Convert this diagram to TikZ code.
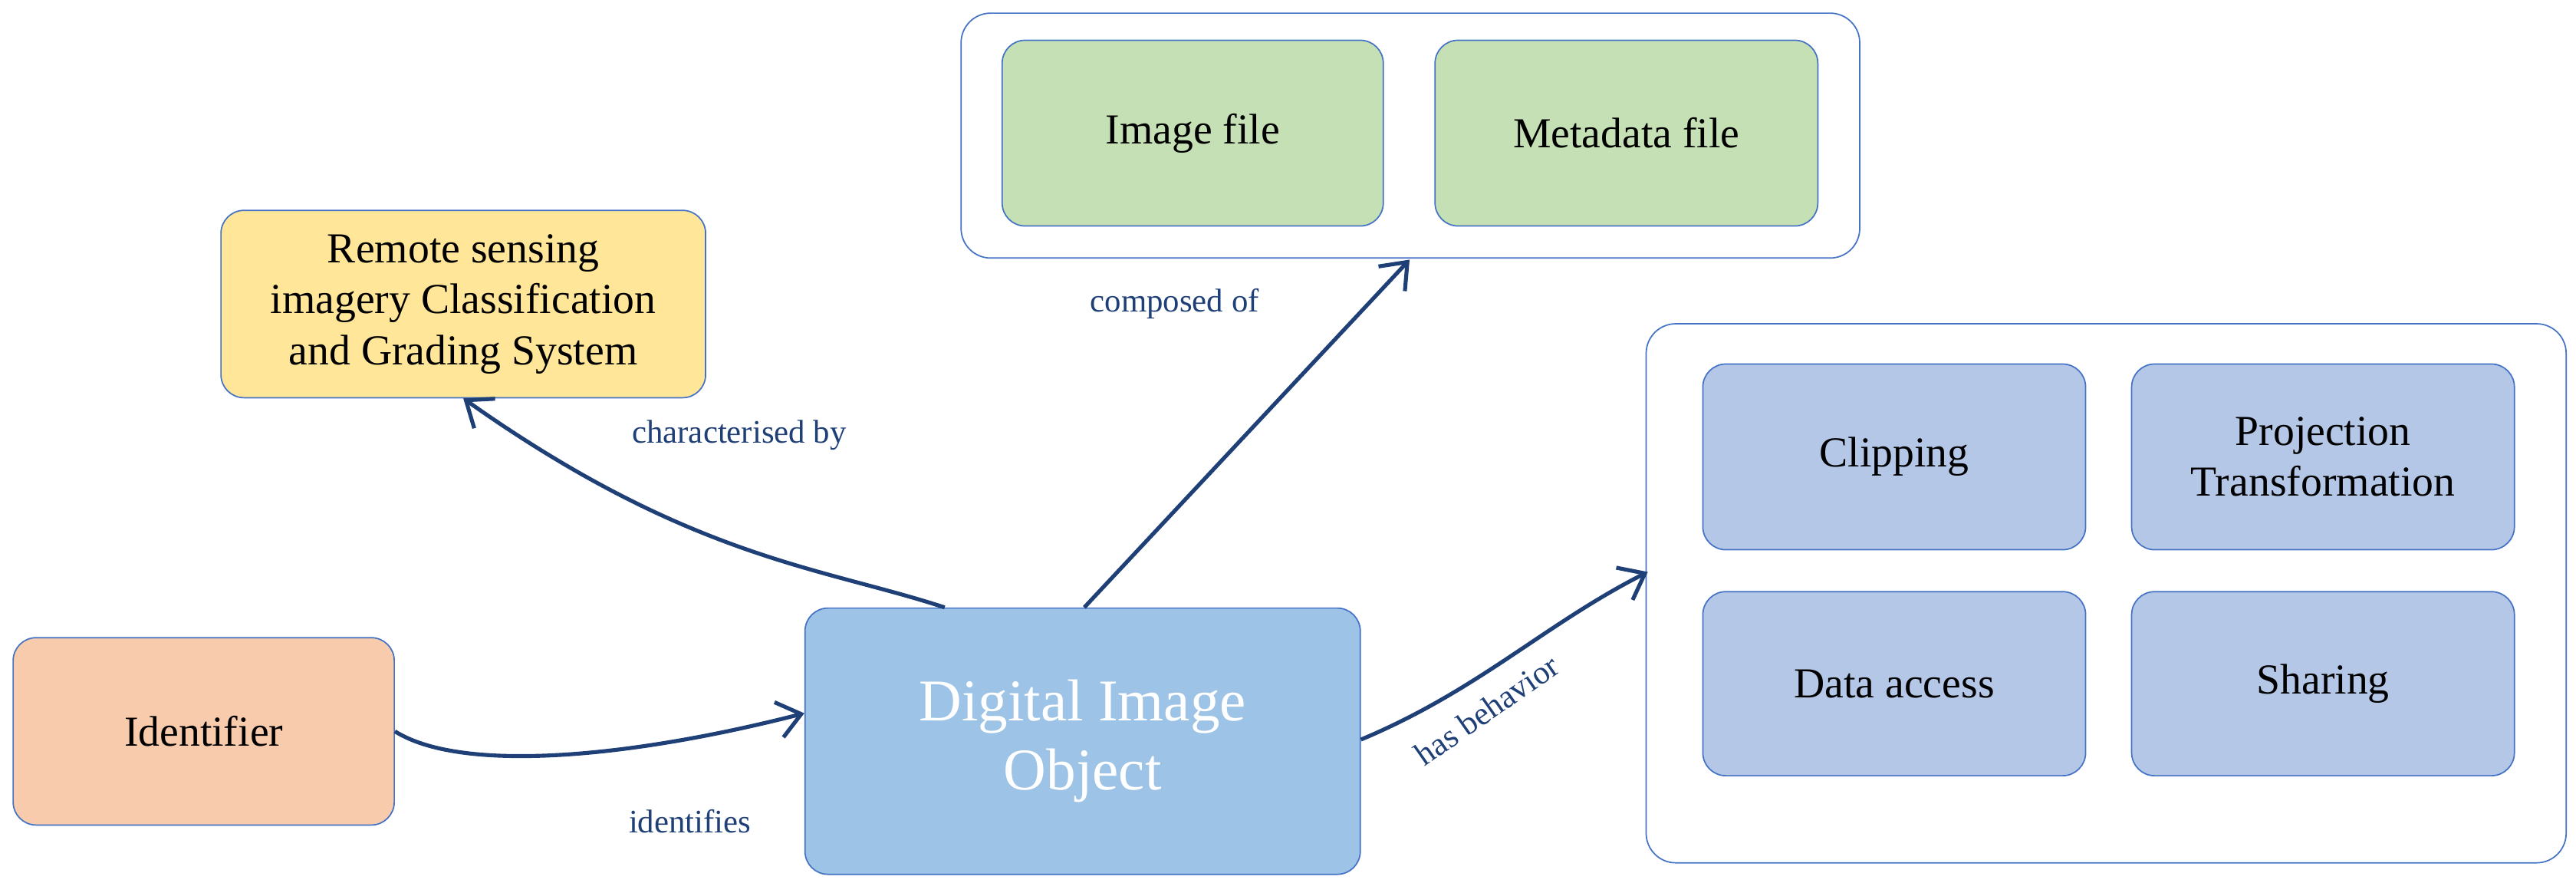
\documentclass[tikz,border=0pt]{standalone}
\usepackage{fontspec}
\setmainfont{Liberation Serif}
\usetikzlibrary{arrows.meta}
\definecolor{edge}{HTML}{4472C4}
\definecolor{arr}{HTML}{1F3F77}
\definecolor{orangef}{HTML}{F8CBAD}
\definecolor{yellowf}{HTML}{FFE699}
\definecolor{greenf}{HTML}{C5E0B4}
\definecolor{bluef}{HTML}{B4C7E7}
\definecolor{diof}{HTML}{9DC3E6}
\tikzset{
 box/.style={draw=edge,line width=0.8pt,rounded corners=14pt,align=center,font=\fontsize{26}{31}\selectfont},
 cont/.style={draw=edge,line width=0.8pt,rounded corners=18pt,fill=white},
 link/.style={draw=arr,line width=2.4pt,-{Straight Barb[length=14pt,width=22pt,line width=2.4pt]}},
 lab/.style={text=arr,font=\fontsize{20}{24}\selectfont},
}
\begin{document}
\begin{tikzpicture}[x=1pt,y=-1pt]
\useasboundingbox (0,0) rectangle (1568,543);
\draw[cont] (585,8) rectangle (1132,157);
\draw[cont] (1002,197) rectangle (1562,525);
\node[box,fill=orangef,minimum width=232pt,minimum height=114pt] (id) at (124,445) {Identifier};
\node[box,fill=diof,minimum width=338pt,minimum height=162pt,text=white,font=\fontsize{36}{42}\selectfont] (dio) at (659,451) {Digital Image\\Object};
\node[box,fill=yellowf,minimum width=295pt,minimum height=114pt] (rs) at (282,185) {Remote sensing\\imagery Classification\\and Grading System};
\node[box,fill=greenf,minimum width=232pt,minimum height=113pt] (img) at (726,81) {Image file};
\node[box,fill=greenf,minimum width=233pt,minimum height=113pt] (meta) at (990,81) {Metadata file};
\node[box,fill=bluef,minimum width=233pt,minimum height=113pt] (clip) at (1153,278) {Clipping};
\node[box,fill=bluef,minimum width=233pt,minimum height=113pt] (proj) at (1414,278) {Projection\\Transformation};
\node[box,fill=bluef,minimum width=233pt,minimum height=112pt] (acc) at (1153,416) {Data access};
\node[box,fill=bluef,minimum width=233pt,minimum height=112pt] (share) at (1414,416) {Sharing};
\coordinate (topc) at (858,158);
\coordinate (rightc) at (1003,348);
\draw[link] (id.east) .. controls (280,470) and (380,462) .. ([yshift=17pt]dio.west);
\draw[link] ([xshift=-84pt]dio.north) .. controls (500,345) and (420,340) .. (rs.south);
\draw[link] ([xshift=1pt]dio.north) -- (topc);
\draw[link] ([yshift=1pt]dio.east) .. controls (900,420) and (940,380) .. (rightc);
\node[lab] at (420,500) {identifies};
\node[lab] at (450,265) {characterised by};
\node[lab] at (715,185) {composed of};
\node[lab,rotate=35] at (905,432) {has behavior};
\end{tikzpicture}
\end{document}
